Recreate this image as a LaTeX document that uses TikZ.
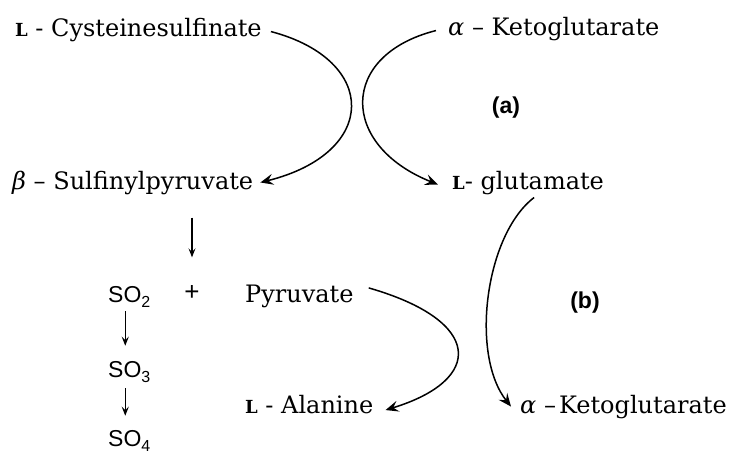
\documentclass[tikz,border=0pt]{standalone}
\usepackage{fontspec}
\setmainfont{DejaVu Serif}
\setsansfont{Liberation Sans}
\usetikzlibrary{arrows.meta}
\newcommand{\Lsc}{{\bfseries\fontsize{18}{18}\selectfont L}}
\newcommand{\subsc}[1]{\raisebox{-5pt}{\fontsize{16}{16}\selectfont #1}}
\begin{document}
\begin{tikzpicture}[x=1pt,y=-1pt,
  lbl/.style={inner sep=0pt, anchor=base west, font=\fontsize{24}{24}\selectfont},
  chem/.style={inner sep=0pt, anchor=base west, font=\sffamily\fontsize{23}{23}\selectfont},
  tag/.style={inner sep=0pt, font=\sffamily\bfseries\fontsize{23}{23}\selectfont},
  carr/.style={line width=1.5pt, -{Stealth[length=13pt,width=11pt,inset=5pt]}},
  sarr/.style={line width=1.1pt, -{Stealth[length=9pt,width=7pt,inset=3.5pt]}}]
\useasboundingbox (0,0) rectangle (731,453);
\fill[white] (0,0) rectangle (731,453);
% labels
\node[lbl] (cys)  at (15,36)  {\Lsc\ - Cysteinesulfinate};
\node[lbl] (akga) at (448,35) {\textit{α} – Ketoglutarate};
\node[lbl] (sulf) at (12,189) {\textit{β} – Sulfinylpyruvate};
\node[lbl] (glu)  at (452,189) {\Lsc- glutamate};
\node[chem] (so2) at (108,302) {SO\subsc{2}};
\node[chem, anchor=center, font=\sffamily\fontsize{26}{26}\selectfont] (plus) at (192,293) {+};
\node[lbl] (pyr)  at (245,302) {Pyruvate};
\node[chem] (so3) at (108,377) {SO\subsc{3}};
\node[chem] (so4) at (108,446) {SO\subsc{4}};
\node[lbl] (ala)  at (245,413) {\Lsc\ - Alanine};
\node[lbl] (akgb) at (520,413) {\textit{α} –\hspace{3pt}Ketoglutarate};
\node[tag] (ta) at (506,108) {(a)};
\node[tag] (tb) at (585,303) {(b)};
% curved connectors
\draw[carr] ([xshift=9pt,yshift=-2pt]cys.east) .. controls (379,60) and (379,153) .. ([xshift=7pt]sulf.east);
\draw[carr] ([xshift=-12pt,yshift=-2pt]akga.west) .. controls (339,55) and (339,145) .. ([xshift=-14pt,yshift=-2pt]glu.west);
\draw[carr] ([xshift=15pt,yshift=8pt]pyr.east) .. controls (484,321) and (484,380) .. ([xshift=12pt,yshift=-6pt]ala.east);
\draw[carr] ([xshift=6pt,yshift=-3pt]glu.south) .. controls (485,235) and (470,355) .. ([xshift=-9pt]akgb.west);
% straight arrows
\draw[sarr] ([yshift=-23pt]sulf.south -| plus.north) -- ([yshift=28pt]plus.north);
\draw[sarr] ([xshift=-4pt,yshift=-4pt]so2.south) -- ([xshift=-4pt,yshift=15pt]so3.north);
\draw[sarr] ([xshift=-4pt,yshift=-6pt]so3.south) -- ([xshift=-4pt,yshift=14pt]so4.north);
\end{tikzpicture}
\end{document}
